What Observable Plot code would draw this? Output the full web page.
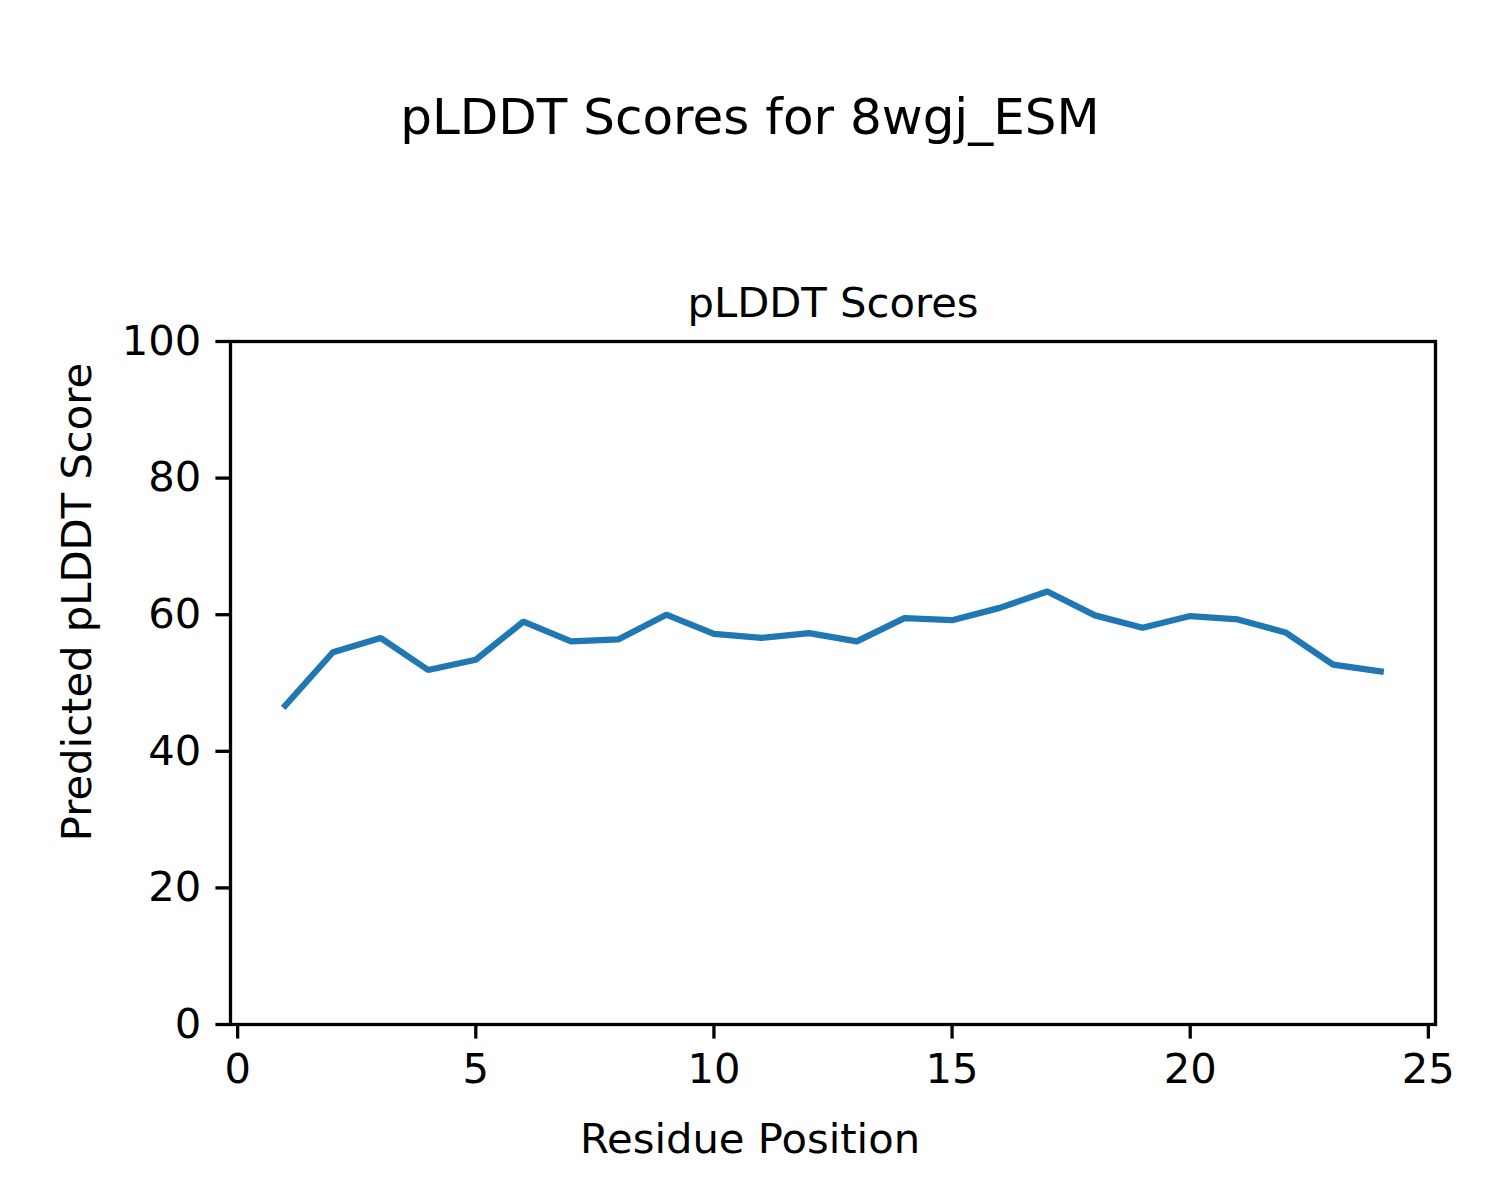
<!DOCTYPE html>
<html>
<head>
<meta charset="utf-8">
<script src="https://cdn.jsdelivr.net/npm/d3@7"></script>
<script src="https://cdn.jsdelivr.net/npm/@observablehq/plot@0.6"></script>
<style>
  html, body { margin: 0; padding: 0; background: #fff; }
  #wrap { position: relative; width: 1500px; font-family: "DejaVu Sans", sans-serif; color: #000; }
  #title { position: relative; height: 200px; }
  #title span { position: absolute; left: 0; width: 1500px; top: 92px; text-align: center;
    font-size: 50px; line-height: 50px; white-space: nowrap; }
  svg { display: block; }
</style>
</head>
<body>
<div id="wrap">
  <div id="title"><span>pLDDT Scores for 8wgj_ESM</span></div>
  <div id="chart"></div>
</div>
<script>
const residues = [1,2,3,4,5,6,7,8,9,10,11,12,13,14,15,16,17,18,19,20,21,22,23,24];
const scores = [46.7,54.5,56.6,51.9,53.4,59.0,56.1,56.4,60.0,57.2,56.6,57.3,56.1,59.5,59.2,61.0,63.4,59.9,58.1,59.8,59.3,57.4,52.7,51.7];
const xTicks = [0,5,10,15,20,25];
const yTicks = [0,20,40,60,80,100];
const axesTitle = "pLDDT Scores";
const xLabel = "Residue Position";
const yLabel = "Predicted pLDDT Score";

const data = residues.map((r, i) => ({residue: r, score: scores[i]}));
const fs = 41.7;
const tick = 14.6;
const lw = 3.3;

const chart = Plot.plot({
  width: 1500,
  height: 1000,
  marginTop: 141,
  marginBottom: 176,
  marginLeft: 230,
  marginRight: 65,
  style: {fontFamily: "DejaVu Sans, sans-serif", fontSize: fs + "px", color: "#000", background: "#fff", overflow: "visible"},
  x: {domain: [-0.15, 25.15]},
  y: {domain: [0, 100]},
  marks: [
    Plot.line(data, {x: "residue", y: "score", stroke: "#1f77b4", strokeWidth: 6.25, strokeLinejoin: "miter", strokeLinecap: "square"}),
    Plot.frame({stroke: "#000", strokeWidth: lw}),
    Plot.axisX(xTicks, {tickSize: tick, tickPadding: 14.6, strokeWidth: lw, fontSize: fs, label: null, fill: "#000"}),
    Plot.axisY(yTicks, {tickSize: tick, tickPadding: 14.6, strokeWidth: lw, fontSize: fs, label: null, fill: "#000"}),
    Plot.text([axesTitle], {text: d => d, frameAnchor: "top", lineAnchor: "bottom", dy: -25, fontSize: fs, fill: "#000"}),
    Plot.text([xLabel], {text: d => d, frameAnchor: "bottom", lineAnchor: "bottom", dx: -83, dy: 128, fontSize: fs, fill: "#000"}),
    Plot.text([yLabel], {text: d => d, frameAnchor: "left", textAnchor: "middle", lineAnchor: "bottom", rotate: -90, dx: -140, dy: -81, fontSize: fs, fill: "#000"})
  ]
});
document.getElementById("chart").appendChild(chart);
</script>
</body>
</html>
